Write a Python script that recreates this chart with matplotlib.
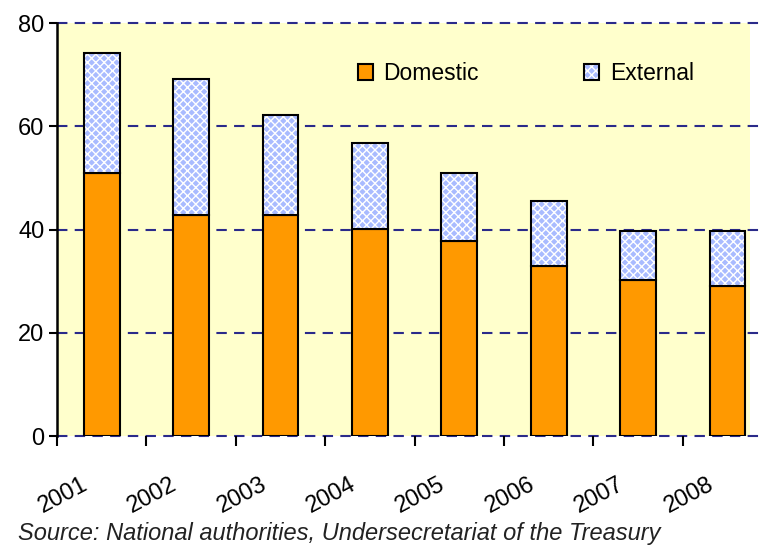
import matplotlib.pyplot as plt
from matplotlib.patches import Patch
from matplotlib.legend_handler import HandlerTuple
from matplotlib.transforms import ScaledTranslation
import numpy as np

plt.rcParams['font.family'] = ['Liberation Sans', 'DejaVu Sans']

years = ['2001', '2002', '2003', '2004', '2005', '2006', '2007', '2008']
domestic = [50.9, 42.8, 42.8, 40.1, 37.8, 32.9, 30.2, 29.1]
external = [23.3, 26.4, 19.4, 16.7, 13.1, 12.6, 9.5, 10.6]
yticks = [0, 20, 40, 60, 80]

orange = '#ff9900'
blue = '#a9bbff'
grid_col = '#2a2a8a'

fig = plt.figure(figsize=(7.63, 5.49), dpi=100)
ax = fig.add_axes([0.0747, 0.2058, 0.908, 0.752])
ax.set_facecolor('#ffffcc')

x = np.arange(len(years))
w = 0.4
ax.bar(x, domestic, w, color=orange, edgecolor='black', linewidth=1.5, zorder=3)
# hatched external part: white pattern on blue, then black outline
ax.bar(x, external, w, bottom=domestic, color=blue, edgecolor='white',
       hatch='xxxx', linewidth=0, zorder=3)
ax.bar(x, external, w, bottom=domestic, fill=False, edgecolor='black',
       linewidth=1.5, zorder=4)

ax.set_xlim(-0.5, 7.25)
ax.set_ylim(0, 80)
ax.set_yticks(yticks)
# dashed gridlines, running a bit past the yellow area like the original
for v in yticks:
    ax.axhline(v, xmax=1.02, linestyle=(0, (5, 3.5)), color=grid_col,
               linewidth=1.5, zorder=1, clip_on=False)

ax.set_xticks(x - 0.5)
ax.set_xticklabels(years, rotation=28, ha='center', fontsize=17)
ax.tick_params(axis='x', length=7, width=1.5, pad=20)
ax.tick_params(axis='y', length=6, width=1.5, labelsize=17, pad=3)
shift = ScaledTranslation(0.06, 0, fig.dpi_scale_trans)
for lbl in ax.get_xticklabels():
    lbl.set_transform(lbl.get_transform() + shift)

for s in ['top', 'right', 'bottom']:
    ax.spines[s].set_visible(False)
ax.spines['left'].set_linewidth(1.8)

h_dom = Patch(facecolor=orange, edgecolor='black', linewidth=1.5)
h_ext = (Patch(facecolor=blue, edgecolor='white', hatch='xxxx', linewidth=0),
         Patch(fill=False, edgecolor='black', linewidth=1.5))
ax.legend([h_dom, h_ext], ['Domestic', 'External'], ncol=2, frameon=False,
          loc='center', bbox_to_anchor=(0.677, 0.878), fontsize=16.5,
          handlelength=0.65, handleheight=0.65, handletextpad=0.45,
          columnspacing=4.6, handler_map={tuple: HandlerTuple(ndivide=1, pad=0)})

fig.text(0.024, 0.017, 'Source: National authorities, Undersecretariat of the Treasury',
         fontsize=17, style='italic', color='#222222')

fig.savefig('out.png', dpi=100)
